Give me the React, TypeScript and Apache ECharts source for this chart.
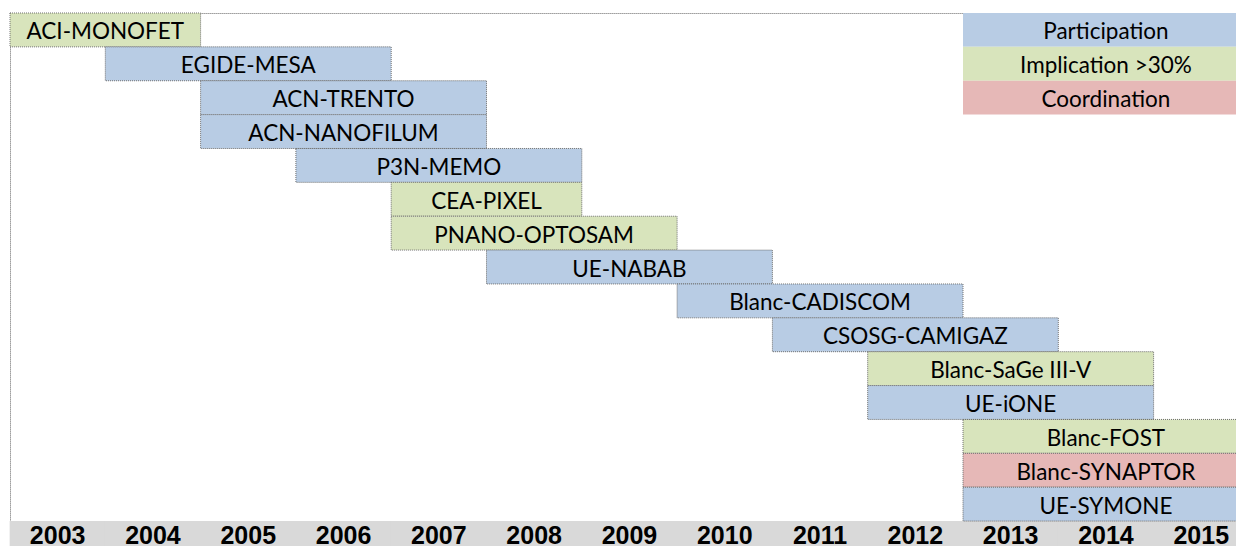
import React, { useEffect, useRef } from "react";
import * as echarts from "echarts";

const years = ["2003", "2004", "2005", "2006", "2007", "2008", "2009", "2010", "2011", "2012", "2013", "2014", "2015"];

const projects = [
  "ACI-MONOFET",
  "EGIDE-MESA",
  "ACN-TRENTO",
  "ACN-NANOFILUM",
  "P3N-MEMO",
  "CEA-PIXEL",
  "PNANO-OPTOSAM",
  "UE-NABAB",
  "Blanc-CADISCOM",
  "CSOSG-CAMIGAZ",
  "Blanc-SaGe III-V",
  "UE-iONE",
  "Blanc-FOST",
  "Blanc-SYNAPTOR",
  "UE-SYMONE",
];
const startYears = [2003, 2004, 2005, 2005, 2006, 2007, 2007, 2008, 2010, 2011, 2012, 2012, 2013, 2013, 2013];
const endYears = [2004, 2006, 2007, 2007, 2008, 2008, 2009, 2010, 2012, 2013, 2014, 2014, 2015, 2015, 2015];
const roles = [
  "Implication >30%",
  "Participation",
  "Participation",
  "Participation",
  "Participation",
  "Implication >30%",
  "Implication >30%",
  "Participation",
  "Participation",
  "Participation",
  "Implication >30%",
  "Participation",
  "Implication >30%",
  "Coordination",
  "Participation",
];

const legendLabels = ["Participation", "Implication >30%", "Coordination"];
const legendColors = ["#b8cce4", "#d8e4bc", "#e6b8b7"];
const legendStart = 2013;
const legendEnd = 2015;

const TEXT_FONT = "22.5px Lato";

export default function App() {
  const ref = useRef<HTMLDivElement>(null);
  useEffect(() => {
    if (!ref.current) return;
    const chart = echarts.init(ref.current, undefined, { renderer: "svg" });
    const colorOf = (r: string) => legendColors[legendLabels.indexOf(r)];

    const barData = projects.map((p, i) => ({
      value: [startYears[i], endYears[i] + 1, i],
      name: p,
    }));
    const legendData = legendLabels.map((l, i) => ({
      value: [legendStart, legendEnd + 1, i],
      name: l,
    }));

    const makeRender = (bordered: boolean, colors: (idx: number) => string, names: string[]) =>
      (params: any, api: any) => {
        const s = api.coord([api.value(0), api.value(2)]);
        const e = api.coord([api.value(1), api.value(2)]);
        const h = api.size([0, 1])[1];
        const idx = params.dataIndex;
        return {
          type: "group",
          children: [
            {
              type: "rect",
              shape: { x: s[0], y: s[1] - h / 2, width: e[0] - s[0], height: h },
              style: bordered
                ? { fill: colors(idx), stroke: "#6e6e6e", lineWidth: 1, lineDash: [1, 1] }
                : { fill: colors(idx) },
            },
            {
              type: "text",
              style: {
                text: names[idx],
                x: (s[0] + e[0]) / 2,
                y: s[1] + 1,
                align: "center",
                verticalAlign: "middle",
                font: TEXT_FONT,
                fill: "#000",
              },
            },
          ],
        };
      };

    chart.setOption({
      animation: false,
      grid: {
        left: 10,
        top: 13,
        width: 13 * 95.3,
        height: 15 * 33.87,
        containLabel: false,
        outerBoundsMode: "none",
      },
      xAxis: [
        {
          type: "value",
          min: 2003,
          max: 2016,
          interval: 1,
          position: "top",
          axisLine: { show: true, lineStyle: { color: "#a0a0a0", type: "dotted", width: 1 } },
          axisTick: { show: false },
          axisLabel: { show: false },
          splitLine: { show: false },
        },
        {
          type: "category",
          data: years,
          position: "bottom",
          boundaryGap: true,
          axisLine: { show: false },
          axisTick: { show: false },
          splitLine: { show: false },
          axisLabel: {
            interval: 0,
            margin: 0,
            color: "#000",
            fontFamily: "Liberation Sans, Arial",
            fontWeight: "bold",
            fontSize: 25,
            lineHeight: 25,
            width: 96,
            height: 30,
            align: "center",
            backgroundColor: "#d9d9d9",
            padding: [1, 0, 0, 0],
          },
        },
      ],
      yAxis: {
        type: "category",
        data: projects,
        inverse: true,
        axisLine: { show: true, lineStyle: { color: "#a0a0a0", type: "dotted", width: 1 } },
        axisTick: { show: false },
        axisLabel: { show: false },
        splitLine: { show: false },
      },
      series: [
        {
          type: "custom",
          xAxisIndex: 0,
          yAxisIndex: 0,
          renderItem: makeRender(false, (i) => legendColors[i], legendLabels),
          data: legendData,
          encode: { x: [0, 1], y: 2 },
          silent: true,
        },
        {
          type: "custom",
          xAxisIndex: 0,
          yAxisIndex: 0,
          renderItem: makeRender(true, (i) => colorOf(roles[i]), projects),
          data: barData,
          encode: { x: [0, 1], y: 2 },
          silent: true,
        },
      ],
    });
    return () => chart.dispose();
  }, []);

  return (
    <div
      style={{
        position: "absolute",
        left: 0,
        top: 0,
        width: 1236,
        height: 546,
        overflow: "hidden",
        background: "#fff",
      }}
    >
      <div ref={ref} style={{ width: 1252, height: 546 }} />
    </div>
  );
}
